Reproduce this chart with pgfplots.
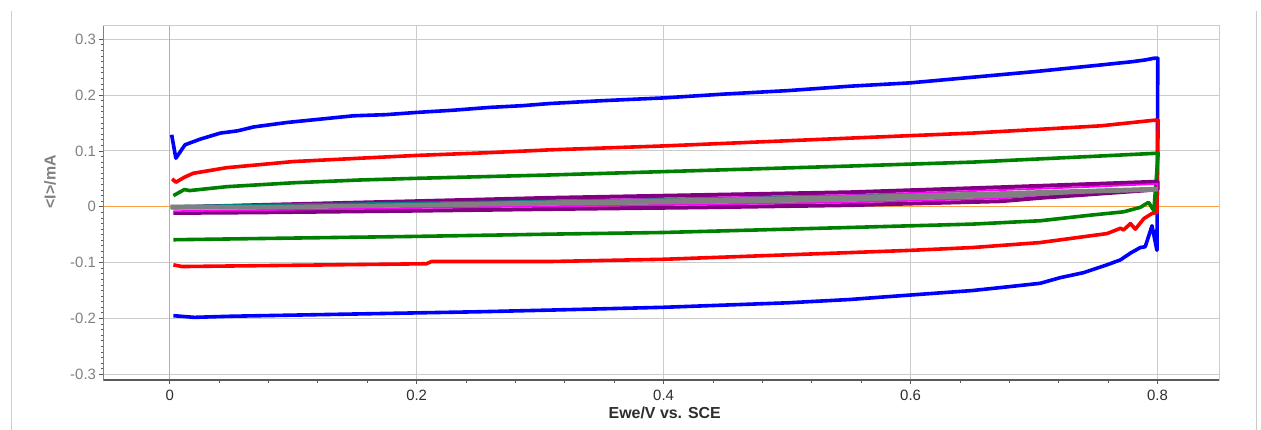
\documentclass[border=0pt]{standalone}
\usepackage{fontspec}
\setmainfont{Liberation Sans}
\usepackage{pgfplots}
\pgfplotsset{compat=1.18}
\definecolor{gridc}{RGB}{204,204,204}
\definecolor{axdark}{RGB}{90,90,90}
\definecolor{orangeln}{RGB}{247,160,70}
\definecolor{ylab}{RGB}{128,128,128}
\definecolor{xlab}{RGB}{45,45,45}
\definecolor{cvblue}{RGB}{0,0,255}
\definecolor{cvred}{RGB}{255,0,0}
\definecolor{cvgreen}{RGB}{0,128,0}
\definecolor{cvpurple}{RGB}{128,0,128}
\definecolor{cvmag}{RGB}{255,0,255}
\definecolor{cvteal}{RGB}{0,128,128}
\definecolor{cvgray}{RGB}{128,128,128}
\begin{document}
\begin{tikzpicture}
\path[use as bounding box] (-103.5bp,-50bp) rectangle (1157.5bp,380bp);
\draw[gridc, line width=1bp] (-91.5bp,-50bp) -- (-91.5bp,369bp);
\draw[gridc, line width=1bp] (1153.2bp,-50bp) -- (1153.2bp,369bp);
\begin{axis}[
  at={(0,0)}, anchor=south west,
  scale only axis, width=1115.8bp, height=354bp,
  xmin=-0.0536, xmax=0.850, ymin=-0.3102, ymax=0.3238,
  xtick={0,0.2,0.4,0.6,0.8}, ytick={-0.3,-0.2,-0.1,0,0.1,0.2,0.3},
  minor x tick num=4, minor y tick num=9,
  xtick pos=bottom, ytick pos=left,
  tick align=outside,
  major tick length=4bp, minor tick length=2.5bp,
  every tick/.style={axdark, line width=0.8bp},
  grid=major, major grid style={gridc, line width=1bp},
  axis line style={gridc, line width=1bp},
  /pgf/number format/assume math mode=true,
  /pgf/number format/fixed,
  xticklabel style={font=\fontsize{15}{15}\selectfont, text=xlab, yshift=-3bp},
  yticklabel style={font=\fontsize{15}{15}\selectfont, text=ylab},
  xlabel={Ewe/V vs. SCE}, ylabel={<I>/mA},
  xlabel style={font=\bfseries\fontsize{16}{16}\selectfont, text=xlab, at={(axis description cs:0.503,-0.094)}, anchor=center},
  ylabel style={font=\bfseries\fontsize{16}{16}\selectfont, text=ylab, at={(axis description cs:-0.048,0.56)}, anchor=center},
  extra x ticks={0}, extra y ticks={0}, extra x tick labels={}, extra y tick labels={},
  extra tick style={major grid style={orangeln, line width=1.2bp}, major tick length=0pt},
  no markers, line join=round,
]
% blue
\addplot[cvblue, line width=3.6bp] coordinates {
(0.0016,0.129) (0.005,0.087) (0.0124,0.111) (0.0245,0.121) (0.041,0.132) (0.055,0.136) (0.068,0.143) (0.095,0.151)
(0.122,0.157) (0.149,0.163) (0.175,0.165) (0.2,0.169) (0.23,0.173) (0.259,0.178) (0.285,0.181) (0.308,0.185) (0.35,0.190) (0.40,0.195)
(0.45,0.202) (0.50,0.208) (0.551,0.216) (0.60,0.222) (0.65,0.232) (0.70,0.242) (0.754,0.254)
(0.78,0.260) (0.790,0.263) (0.797,0.266) (0.8002,0.266)
(0.7995,-0.078) (0.7955,-0.034) (0.790,-0.0715) (0.786,-0.073) (0.778,-0.083) (0.770,-0.095)
(0.759,-0.104) (0.740,-0.118) (0.721,-0.127) (0.705,-0.137) (0.68,-0.143) (0.65,-0.150) (0.625,-0.154) (0.60,-0.158)
(0.575,-0.162) (0.551,-0.166) (0.50,-0.172) (0.45,-0.176) (0.40,-0.180) (0.308,-0.185) (0.25,-0.188)
(0.20,-0.190) (0.15,-0.192) (0.10,-0.194) (0.05,-0.196) (0.02,-0.198) (0.003,-0.195)
};
% red
\addplot[cvred, line width=3.6bp] coordinates {
(0.002,0.050) (0.005,0.044) (0.012,0.053) (0.019,0.060) (0.046,0.070) (0.10,0.081) (0.154,0.087)
(0.20,0.092) (0.259,0.097) (0.308,0.102) (0.40,0.109) (0.551,0.123) (0.65,0.132) (0.754,0.145)
(0.797,0.155) (0.8005,0.155)
(0.7995,-0.010) (0.7955,-0.012) (0.789,-0.021) (0.782,-0.040) (0.778,-0.030) (0.7725,-0.0415)
(0.770,-0.0385) (0.759,-0.048) (0.732,-0.056) (0.705,-0.064) (0.65,-0.073) (0.60,-0.078) (0.551,-0.082)
(0.40,-0.094) (0.308,-0.098) (0.212,-0.098) (0.208,-0.102) (0.13,-0.104) (0.05,-0.106)
(0.01,-0.107) (0.003,-0.104)
};
% green
\addplot[cvgreen, line width=3.6bp] coordinates {
(0.003,0.020) (0.012,0.031) (0.016,0.029) (0.046,0.036) (0.10,0.043) (0.154,0.048) (0.20,0.051)
(0.308,0.057) (0.40,0.063) (0.551,0.073) (0.65,0.080) (0.754,0.091) (0.8005,0.096)
(0.797,-0.007) (0.7927,0.008) (0.786,-0.001) (0.7725,-0.009) (0.7455,-0.015) (0.705,-0.025)
(0.65,-0.031) (0.551,-0.037) (0.40,-0.046) (0.308,-0.049) (0.2,-0.053) (0.1,-0.056) (0.003,-0.059)
};
% purple
\addplot[cvpurple, line width=4bp] coordinates {
(0.003,-0.001) (0.07,0.003) (0.2,0.010) (0.308,0.016) (0.43,0.021) (0.551,0.026) (0.673,0.035)
(0.737,0.040) (0.8,0.045)
(0.8,0.031) (0.737,0.021) (0.705,0.016) (0.673,0.010) (0.551,0.003) (0.43,-0.001) (0.308,-0.004)
(0.2,-0.007) (0.07,-0.010) (0.003,-0.011)
};
% magenta
\addplot[cvmag, line width=1.8bp] coordinates {
(0.003,-0.003) (0.07,-0.001) (0.2,0.005) (0.308,0.011) (0.43,0.016) (0.551,0.021) (0.673,0.030)
(0.737,0.035) (0.8,0.041)
(0.8,0.034) (0.737,0.026) (0.705,0.021) (0.673,0.015) (0.551,0.008) (0.43,0.004) (0.308,0.001)
(0.2,-0.002) (0.07,-0.006) (0.003,-0.008)
};
% teal
\addplot[cvteal, line width=1.5bp] coordinates {
(0.001,0.002) (0.2,0.008) (0.4,0.014) (0.6,0.022) (0.8,0.031)
(0.8,0.030) (0.6,0.018) (0.4,0.010) (0.2,0.003) (0.001,-0.002)
};
% gray
\addplot[cvgray, fill=cvgray, line width=1bp] coordinates {
(0.001,0.003) (0.07,0.002) (0.2,0.006) (0.308,0.0105) (0.43,0.015) (0.551,0.020) (0.673,0.027)
(0.737,0.031) (0.8,0.035)
(0.8,0.028) (0.737,0.024) (0.673,0.017) (0.551,0.010) (0.43,0.006) (0.308,0.003) (0.2,0.000)
(0.07,-0.004) (0.001,-0.004)
} -- cycle;
\draw[axdark, line width=1.5bp] (rel axis cs:0,1) -- (rel axis cs:0,0) -- (rel axis cs:1,0);
\end{axis}
\end{tikzpicture}
\end{document}
